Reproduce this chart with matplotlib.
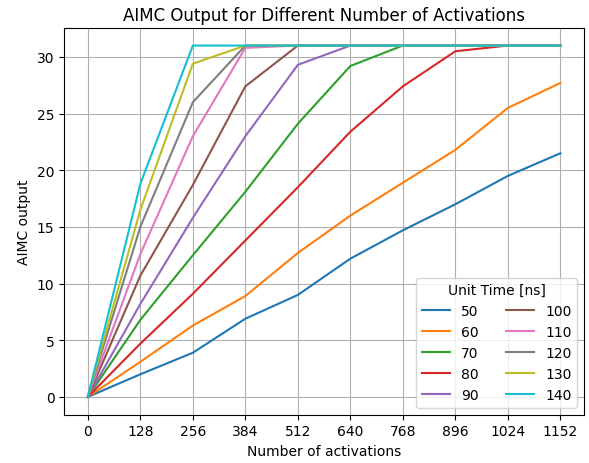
import matplotlib
matplotlib.use('Agg')
import matplotlib.pyplot as plt
import numpy as np

# activations on the x axis
activations = [0, 128, 256, 384, 512, 640, 768, 896, 1024, 1152]
unit_times = [50, 60, 70, 80, 90, 100, 110, 120, 130, 140]

# AIMC output per unit time (saturates at 31)
out_50 = [0, 2.0, 3.9, 6.9, 9.0, 12.2, 14.7, 17.0, 19.5, 21.5]
out_60 = [0, 3.1, 6.3, 8.9, 12.7, 16.0, 18.9, 21.8, 25.5, 27.7]
out_70 = [0, 6.8, 12.5, 18.1, 24.1, 29.2, 31, 31, 31, 31]
out_80 = [0, 4.7, 9.1, 13.8, 18.5, 23.4, 27.4, 30.5, 31, 31]
out_90 = [0, 8.2, 15.8, 23.0, 29.3, 31, 31, 31, 31, 31]
out_100 = [0, 10.7, 18.7, 27.4, 31, 31, 31, 31, 31, 31]
out_110 = [0, 12.6, 23.0, 30.8, 31, 31, 31, 31, 31, 31]
out_120 = [0, 15.0, 26.0, 31, 31, 31, 31, 31, 31, 31]
out_130 = [0, 16.5, 29.4, 31, 31, 31, 31, 31, 31, 31]
out_140 = [0, 18.8, 31, 31, 31, 31, 31, 31, 31, 31]

outputs = [out_50, out_60, out_70, out_80, out_90,
           out_100, out_110, out_120, out_130, out_140]

fig = plt.figure(figsize=(5.89, 4.64), dpi=100)

for t, y in zip(unit_times, outputs):
    plt.plot(activations, y, label=str(t))

plt.title('AIMC Output for Different Number of Activations')
plt.xlabel('Number of activations')
plt.ylabel('AIMC output')
plt.xticks(activations)
plt.grid(True)
plt.legend(title='Unit Time [ns]', ncol=2, loc='lower right')

plt.subplots_adjust(left=0.109, right=0.9915, top=0.9375, bottom=0.1045)
plt.savefig('out.png', dpi=100)
